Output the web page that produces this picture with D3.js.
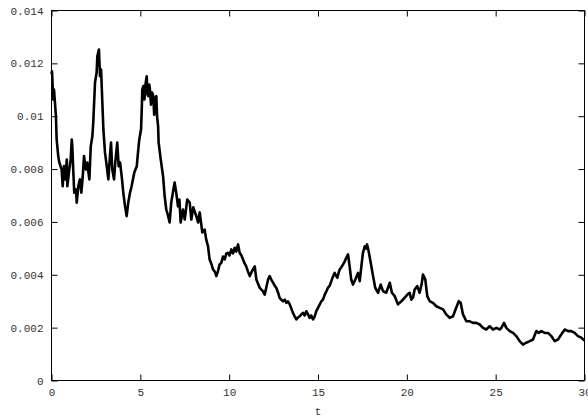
<!DOCTYPE html>
<html>
<head>
<meta charset="utf-8">
<script src="https://cdn.jsdelivr.net/npm/d3@7"></script>
<style>
  html, body { margin: 0; padding: 0; background: #fff; }
  svg text { font-family: "Liberation Mono", "DejaVu Sans Mono", monospace; font-size: 11px; fill: #333; }
</style>
</head>
<body>
<div id="chart"></div>
<script>
const times = [
  0, 0.03, 0.10, 0.14, 0.25, 0.29, 0.38, 0.44, 0.57, 0.63, 0.70, 0.78, 0.86, 0.89, 1.00, 1.08, 1.14, 1.17, 1.23, 1.28,
  1.38, 1.42, 1.51, 1.60, 1.68, 1.76, 1.83, 1.94, 2.01, 2.13, 2.21, 2.30, 2.35, 2.45, 2.54, 2.58, 2.67, 2.73, 2.79, 2.84,
  2.92, 3.01, 3.11, 3.20, 3.29, 3.35, 3.42, 3.52, 3.59, 3.70, 3.78, 3.86, 3.97, 4.04, 4.14, 4.23, 4.32, 4.42, 4.51, 4.66,
  4.80, 4.85, 4.94, 5.04, 5.08, 5.11, 5.17, 5.23, 5.29, 5.36, 5.40, 5.45, 5.50, 5.54, 5.60, 5.66, 5.73, 5.78, 5.83, 5.90,
  5.94, 6.00, 6.03, 6.15, 6.28, 6.37, 6.46, 6.56, 6.65, 6.74, 6.86, 6.93, 7.02, 7.12, 7.20, 7.27, 7.40, 7.50, 7.64, 7.78,
  7.87, 7.98, 8.15, 8.25, 8.34, 8.49, 8.62, 8.71, 8.81, 8.90, 9.01, 9.09, 9.19, 9.28, 9.37, 9.46, 9.56, 9.65, 9.75, 9.84,
  9.93, 10.02, 10.12, 10.22, 10.31, 10.40, 10.50, 10.59, 10.69, 10.78, 10.87, 10.96, 11.06, 11.16, 11.25, 11.34, 11.44, 11.53, 11.62, 11.72,
  11.81, 11.90, 12.00, 12.09, 12.19, 12.28, 12.37, 12.47, 12.56, 12.65, 12.75, 12.84, 12.93, 13.03, 13.13, 13.22, 13.31, 13.41, 13.50, 13.59,
  13.69, 13.78, 13.87, 13.97, 14.06, 14.16, 14.25, 14.34, 14.44, 14.53, 14.62, 14.72, 14.81, 14.90, 15.00, 15.10, 15.19, 15.28, 15.38, 15.47,
  15.56, 15.66, 15.75, 15.84, 15.94, 16.01, 16.09, 16.15, 16.22, 16.31, 16.41, 16.50, 16.59, 16.69, 16.78, 16.87, 16.97, 17.10, 17.25, 17.35,
  17.44, 17.53, 17.63, 17.70, 17.76, 17.85, 17.97, 18.10, 18.22, 18.38, 18.53, 18.66, 18.84, 19.04, 19.16, 19.32, 19.50, 19.69, 19.88, 20.03,
  20.16, 20.25, 20.35, 20.44, 20.59, 20.72, 20.83, 20.91, 21.04, 21.15, 21.29, 21.47, 21.66, 21.85, 22.04, 22.22, 22.41, 22.60, 22.78, 22.92,
  23.03, 23.16, 23.35, 23.54, 23.72, 23.91, 24.10, 24.29, 24.47, 24.66, 24.85, 25.04, 25.23, 25.32, 25.47, 25.60, 25.79, 25.98, 26.16, 26.35,
  26.54, 26.72, 26.92, 27.10, 27.29, 27.42, 27.57, 27.76, 27.95, 28.13, 28.32, 28.51, 28.69, 28.89, 29.07, 29.26, 29.45, 29.63, 29.82, 30.00
];
const values = [
  0.01160, 0.01170, 0.01063, 0.01101, 0.01000, 0.00912, 0.00849, 0.00825, 0.00798, 0.00735, 0.00811, 0.00761, 0.00836, 0.00735, 0.00798, 0.00836, 0.00912, 0.00886, 0.00787, 0.00711,
  0.00723, 0.00673, 0.00735, 0.00761, 0.00711, 0.00773, 0.00849, 0.00798, 0.00825, 0.00761, 0.00886, 0.00924, 0.00976, 0.01128, 0.01165, 0.01227, 0.01252, 0.01151, 0.01177, 0.01090,
  0.00950, 0.00863, 0.00811, 0.00761, 0.00849, 0.00900, 0.00798, 0.00761, 0.00825, 0.00900, 0.00811, 0.00825, 0.00761, 0.00711, 0.00659, 0.00622, 0.00673, 0.00711, 0.00735, 0.00787,
  0.00811, 0.00849, 0.00912, 0.00950, 0.01025, 0.01101, 0.01114, 0.01063, 0.01120, 0.01151, 0.01082, 0.01076, 0.01120, 0.01101, 0.01044, 0.01090, 0.01076, 0.01006, 0.01063, 0.01076,
  0.01000, 0.00962, 0.00900, 0.00836, 0.00773, 0.00697, 0.00647, 0.00624, 0.00598, 0.00673, 0.00723, 0.00749, 0.00711, 0.00659, 0.00685, 0.00598, 0.00647, 0.00609, 0.00685, 0.00673,
  0.00609, 0.00655, 0.00622, 0.00598, 0.00636, 0.00560, 0.00571, 0.00533, 0.00508, 0.00458, 0.00439, 0.00420, 0.00412, 0.00395, 0.00414, 0.00439, 0.00445, 0.00469, 0.00458, 0.00481,
  0.00483, 0.00473, 0.00496, 0.00481, 0.00502, 0.00488, 0.00515, 0.00483, 0.00473, 0.00458, 0.00443, 0.00432, 0.00412, 0.00395, 0.00409, 0.00420, 0.00432, 0.00382, 0.00367, 0.00351,
  0.00344, 0.00338, 0.00325, 0.00352, 0.00382, 0.00395, 0.00382, 0.00370, 0.00359, 0.00351, 0.00333, 0.00313, 0.00306, 0.00300, 0.00306, 0.00294, 0.00299, 0.00288, 0.00272, 0.00256,
  0.00242, 0.00231, 0.00238, 0.00243, 0.00250, 0.00256, 0.00246, 0.00262, 0.00250, 0.00237, 0.00246, 0.00231, 0.00242, 0.00262, 0.00275, 0.00288, 0.00300, 0.00306, 0.00325, 0.00337,
  0.00351, 0.00359, 0.00376, 0.00393, 0.00407, 0.00397, 0.00389, 0.00405, 0.00420, 0.00428, 0.00439, 0.00450, 0.00464, 0.00477, 0.00432, 0.00382, 0.00363, 0.00382, 0.00407, 0.00376,
  0.00432, 0.00483, 0.00508, 0.00499, 0.00515, 0.00489, 0.00445, 0.00395, 0.00351, 0.00332, 0.00363, 0.00338, 0.00332, 0.00370, 0.00332, 0.00319, 0.00288, 0.00300, 0.00313, 0.00325,
  0.00332, 0.00306, 0.00314, 0.00344, 0.00357, 0.00332, 0.00363, 0.00401, 0.00382, 0.00319, 0.00300, 0.00294, 0.00281, 0.00275, 0.00269, 0.00250, 0.00237, 0.00243, 0.00275, 0.00300,
  0.00294, 0.00250, 0.00224, 0.00224, 0.00218, 0.00218, 0.00212, 0.00199, 0.00193, 0.00205, 0.00193, 0.00199, 0.00193, 0.00199, 0.00218, 0.00199, 0.00187, 0.00180, 0.00168, 0.00149,
  0.00136, 0.00143, 0.00149, 0.00155, 0.00187, 0.00180, 0.00187, 0.00180, 0.00180, 0.00168, 0.00149, 0.00155, 0.00174, 0.00193, 0.00187, 0.00187, 0.00180, 0.00168, 0.00162, 0.00151
];
const xTicks = [0, 5, 10, 15, 20, 25, 30];
const yTicks = [0, 0.002, 0.004, 0.006, 0.008, 0.01, 0.012, 0.014];
const xLabel = "t";

const width = 588, height = 419;
const plotLeft = 51.5, plotRight = 584.5, plotTop = 10.5, plotBottom = 380.5;

const svg = d3.select("#chart").append("svg")
  .attr("width", width)
  .attr("height", height);

const x = d3.scaleLinear().domain([0, 30]).range([plotLeft, plotRight]);
const y = d3.scaleLinear().domain([0, 0.014]).range([plotBottom, plotTop]);
const fmt = d3.format("~g");

// axes with inward ticks (gnuplot style), mirrored on top/right
const styleAxis = g => {
  g.select(".domain").remove();
  g.selectAll(".tick line").attr("stroke", "#000");
  g.selectAll(".tick text").attr("fill", "#333").attr("font-family", null).attr("font-size", null);
};

svg.append("g")
  .attr("transform", `translate(${plotLeft},0)`)
  .call(d3.axisLeft(y).tickValues(yTicks).tickFormat(fmt).tickSizeInner(-6).tickSizeOuter(0).tickPadding(8))
  .call(styleAxis);

svg.append("g")
  .attr("transform", `translate(${plotRight},0)`)
  .call(d3.axisRight(y).tickValues(yTicks).tickFormat("").tickSizeInner(-6).tickSizeOuter(0))
  .call(styleAxis);

svg.append("g")
  .attr("transform", `translate(0,${plotBottom})`)
  .call(d3.axisBottom(x).tickValues(xTicks).tickFormat(fmt).tickSizeInner(-6).tickSizeOuter(0).tickPadding(8))
  .call(styleAxis);

svg.append("g")
  .attr("transform", `translate(0,${plotTop})`)
  .call(d3.axisTop(x).tickValues(xTicks).tickFormat("").tickSizeInner(-6).tickSizeOuter(0))
  .call(styleAxis);

// border
svg.append("rect")
  .attr("x", plotLeft).attr("y", plotTop)
  .attr("width", plotRight - plotLeft).attr("height", plotBottom - plotTop)
  .attr("fill", "none").attr("stroke", "#000").attr("stroke-width", 1);

// series
const pts = times.map((t, i) => [t, values[i]]);
const line = d3.line().x(d => x(d[0])).y(d => y(d[1]));

svg.append("path")
  .datum(pts)
  .attr("d", line)
  .attr("fill", "none")
  .attr("stroke", "#000")
  .attr("stroke-width", 2.6)
  .attr("stroke-linejoin", "round");

// x label
svg.append("text")
  .attr("x", (plotLeft + plotRight) / 2)
  .attr("y", 415)
  .attr("text-anchor", "middle")
  .text(xLabel);
</script>
</body>
</html>
